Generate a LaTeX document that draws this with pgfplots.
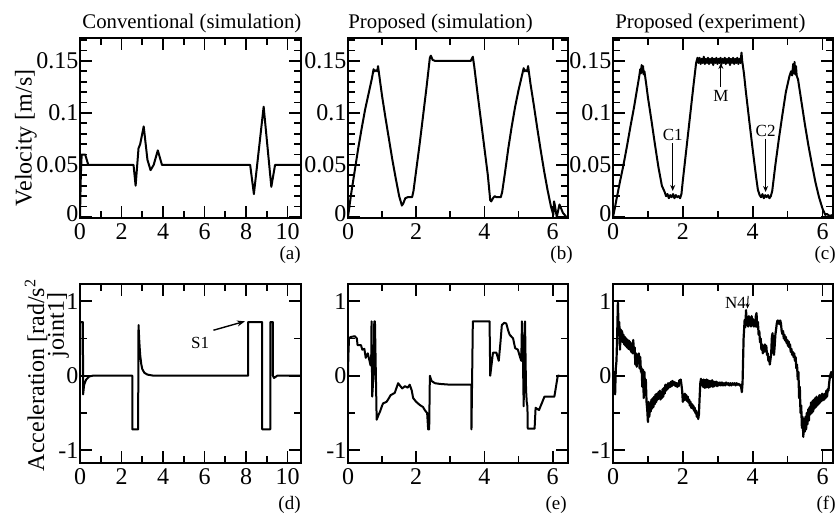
\documentclass[border=0pt]{standalone}
\usepackage{fontspec}
\setmainfont{Liberation Serif}
\usepackage{pgfplots}
\pgfplotsset{compat=1.18}
\usetikzlibrary{arrows.meta}

% 1 px of the reference = 0.5pt
\pgfplotsset{
  panel/.style={
    scale only axis, width=110pt, height=90pt, anchor=south west,
    axis line style={line width=1pt},
    every tick/.style={black, line width=0.9pt},
    major tick length=6pt, minor tick length=3.5pt,
    tick align=inside,
    ticklabel style={font=\fontsize{12}{12}\selectfont},
    yticklabel style={inner sep=0.6pt},
    xticklabel style={inner sep=2.6pt},
  },
  vel/.style={panel, ymin=-0.001, ymax=0.172,
    ytick={0,0.05,0.1,0.15}, yticklabels={\raisebox{3.4pt}{0},0.05,0.1,0.15},
    minor ytick={0.01,0.02,0.03,0.04,0.06,0.07,0.08,0.09,0.11,0.12,0.13,0.14,0.16,0.17}},
  acc/.style={panel, height=89.5pt, ymin=-1.17, ymax=1.23,
    ytick={-1,0,1}, yticklabels={-1,0,1}, minor ytick={-0.5,0.5}},
  long/.style={xmin=0, xmax=10.65, xtick={0,2,4,6,8,10}, xticklabels={0,2,4,6,8,10},
    minor xtick={1,3,5,7,9}},
  mid/.style={xmin=0, xmax=6.45, xtick={0,2,4,6}, xticklabels={0,2,4,6}, minor xtick={1,3,5}},
  short/.style={xmin=0, xmax=6.3, xtick={0,2,4,6}, xticklabels={0,2,4,6}, minor xtick={1,3,5}},
  curve/.style={black, line width=1pt, no marks, line join=round},
}
\newcommand{\ann}{\fontsize{8.5}{8.5}\selectfont}
\newcommand{\ttl}{\fontsize{10.4}{10.4}\selectfont}

\begin{document}
\begin{tikzpicture}
\useasboundingbox (0,0) rectangle (418pt,-257pt);

% ---------- (a) conventional velocity
\begin{axis}[vel, long, at={(40pt,-109pt)}, width=110.5pt]
\addplot[curve] coordinates {
(0,0) (0.04,0.04) (0.08,0.06) (0.25,0.06) (0.4,0.05) (2.58,0.05) (2.68,0.03)
(2.82,0.066) (2.9,0.07) (3.07,0.087) (3.25,0.055) (3.4,0.045) (3.55,0.05)
(3.75,0.064) (3.95,0.05) (8.2,0.05) (8.38,0.022) (8.85,0.106) (9.22,0.029)
(9.4,0.05) (10.65,0.05)};
\end{axis}

% ---------- (b) proposed velocity, simulation
\begin{axis}[vel, mid, at={(174pt,-109pt)}]
\addplot[curve] coordinates {
(0,0) (0.05,0.012) (0.1,0.024) (0.2,0.045) (0.3,0.066) (0.4,0.085) (0.5,0.103)
(0.6,0.118) (0.7,0.133) (0.75,0.142) (0.78,0.14) (0.82,0.141) (0.86,0.14) (0.88,0.145)
(0.95,0.128) (1.0,0.116) (1.1,0.095) (1.2,0.075) (1.3,0.055) (1.4,0.037) (1.5,0.02)
(1.58,0.011) (1.62,0.013) (1.68,0.018) (1.75,0.019) (1.88,0.019) (1.92,0.025)
(2.0,0.045) (2.1,0.07) (2.2,0.097) (2.3,0.124) (2.4,0.153) (2.43,0.155) (2.48,0.151)
(2.55,0.15) (3.6,0.15) (3.66,0.154) (3.7,0.145) (3.8,0.118) (3.9,0.092) (4.0,0.066)
(4.1,0.04) (4.17,0.016) (4.2,0.015) (4.25,0.018) (4.3,0.02) (4.35,0.019) (4.48,0.019)
(4.52,0.024) (4.6,0.042) (4.7,0.066) (4.8,0.087) (4.9,0.106) (5.0,0.122) (5.1,0.136)
(5.15,0.143) (5.18,0.14) (5.22,0.141) (5.25,0.14) (5.28,0.145) (5.35,0.128)
(5.45,0.107) (5.55,0.085) (5.65,0.064) (5.75,0.044) (5.85,0.026) (5.95,0.01)
(6.02,0.002) (6.04,0.015) (6.06,0.012) (6.12,0.0) (6.2,0.012) (6.3,0.004) (6.4,0)};
\end{axis}

% ---------- (c) proposed velocity, experiment
\begin{axis}[vel, short, at={(306.5pt,-109pt)}]
\addplot[curve] coordinates {
(0,0) (0.05,0.008) (0.1,0.017) (0.2,0.034) (0.3,0.05) (0.4,0.068) (0.5,0.087)
(0.6,0.105) (0.7,0.125) (0.75,0.135) (0.78,0.142) (0.8,0.138) (0.82,0.146) (0.84,0.139)
(0.86,0.145) (0.88,0.137) (0.9,0.14) (0.95,0.128) (1.0,0.115) (1.1,0.093) (1.2,0.07)
(1.3,0.048) (1.4,0.03) (1.48,0.024) (1.52,0.02) (1.56,0.022) (1.6,0.018) (1.64,0.021)
(1.68,0.019) (1.72,0.022) (1.76,0.018) (1.8,0.021) (1.84,0.019) (1.88,0.02) (1.92,0.018)
(1.96,0.022) (2.0,0.035) (2.1,0.065) (2.2,0.095) (2.3,0.125) (2.38,0.148) (2.42,0.153)
(2.45,0.148) (2.48,0.153) (2.51,0.147) (2.54,0.152) (2.57,0.148) (2.6,0.154) (2.63,0.147)
(2.66,0.152) (2.69,0.148) (2.72,0.153) (2.75,0.147) (2.78,0.152) (2.81,0.148) (2.84,0.153)
(2.87,0.146) (2.9,0.152) (2.93,0.148) (2.96,0.153) (2.99,0.147) (3.02,0.152) (3.05,0.148)
(3.08,0.153) (3.11,0.147) (3.14,0.152) (3.17,0.148) (3.2,0.153) (3.23,0.147) (3.26,0.152)
(3.29,0.148) (3.32,0.153) (3.35,0.146) (3.38,0.152) (3.41,0.148) (3.44,0.153) (3.47,0.147)
(3.5,0.152) (3.53,0.148) (3.56,0.153) (3.59,0.147) (3.62,0.152) (3.65,0.148) (3.68,0.158)
(3.7,0.15) (3.75,0.138) (3.8,0.122) (3.9,0.093) (4.0,0.065) (4.1,0.038) (4.15,0.026)
(4.2,0.021) (4.24,0.019) (4.28,0.022) (4.32,0.018) (4.36,0.021) (4.4,0.019) (4.44,0.021)
(4.48,0.018) (4.52,0.02) (4.56,0.025) (4.65,0.05) (4.75,0.075) (4.85,0.098) (4.95,0.12)
(5.05,0.135) (5.1,0.14) (5.13,0.136) (5.16,0.147) (5.18,0.138) (5.2,0.149) (5.22,0.137)
(5.24,0.145) (5.26,0.136) (5.3,0.132) (5.4,0.11) (5.5,0.088) (5.6,0.068) (5.7,0.05)
(5.8,0.033) (5.9,0.019) (6.0,0.008) (6.08,0.002) (6.12,0.003) (6.2,0.001) (6.3,0.002)};
\node[font=\ann] at (axis cs:3.09,0.116) {M};
\draw[-{Stealth[length=3pt,width=2.5pt]}, line width=0.5pt] (axis cs:3.09,0.125) -- (axis cs:3.09,0.148);
\node[font=\ann] at (axis cs:1.71,0.079) {C1};
\draw[-{Stealth[length=3pt,width=2.5pt]}, line width=0.5pt] (axis cs:1.71,0.071) -- (axis cs:1.71,0.025);
\node[font=\ann] at (axis cs:4.37,0.083) {C2};
\draw[-{Stealth[length=3pt,width=2.5pt]}, line width=0.5pt] (axis cs:4.37,0.075) -- (axis cs:4.37,0.024);
\end{axis}

% ---------- (d) conventional acceleration
\begin{axis}[acc, long, at={(40pt,-231.5pt)}, width=110.5pt]
\addplot[curve] coordinates {
(0,0) (0.01,0.72) (0.14,0.72) (0.15,-0.25) (0.2,-0.12) (0.3,-0.05) (0.45,-0.01) (0.6,0)
(2.52,0) (2.52,-0.72) (2.8,-0.72) (2.82,0.68) (2.86,0.45) (2.9,0.28) (2.95,0.16)
(3.0,0.09) (3.1,0.04) (3.25,0.015) (3.5,0.003) (8.1,0) (8.1,0.72) (8.78,0.72)
(8.78,-0.72) (9.17,-0.72) (9.17,0.72) (9.3,0.72) (9.3,0) (9.35,-0.03) (9.5,0) (10.65,0)};
\node[font=\ann] at (axis cs:5.79,0.44) {S1};
\draw[-{Stealth[length=4pt,width=3pt]}, line width=0.7pt] (axis cs:6.43,0.61) -- (axis cs:7.95,0.73);
\end{axis}

% ---------- (e) proposed acceleration, simulation
\begin{axis}[acc, mid, at={(174pt,-231.5pt)}]
\addplot[curve] coordinates {
(0,0) (0.01,0.26) (0.03,0.5) (0.08,0.52) (0.2,0.53) (0.26,0.5) (0.28,0.41) (0.38,0.41)
(0.42,0.35) (0.48,0.36) (0.52,0.24) (0.58,0.3) (0.62,0.22) (0.66,0.14) (0.68,0.2)
(0.69,0.73) (0.71,-0.28) (0.76,0.1) (0.77,0.73) (0.79,0.73) (0.84,-0.59) (0.9,-0.52)
(0.94,-0.48) (1.0,-0.4) (1.03,-0.37) (1.13,-0.35) (1.2,-0.3) (1.25,-0.26) (1.37,-0.23)
(1.47,-0.1) (1.52,-0.13) (1.59,-0.17) (1.67,-0.14) (1.75,-0.16) (1.81,-0.12) (1.87,-0.2)
(1.91,-0.3) (2.0,-0.35) (2.1,-0.39) (2.2,-0.42) (2.25,-0.46) (2.32,-0.5) (2.35,-0.72)
(2.38,-0.72) (2.4,0.0) (2.45,-0.07) (2.55,-0.1) (2.7,-0.11) (3.0,-0.12) (3.62,-0.12)
(3.62,-0.72) (3.66,0.73) (4.15,0.73) (4.17,0.0) (4.25,0.31) (4.35,0.31) (4.42,0.2)
(4.47,0.45) (4.51,0.68) (4.58,0.71) (4.64,0.7) (4.7,0.6) (4.74,0.55) (4.84,0.5)
(4.9,0.37) (4.98,0.35) (5.05,0.24) (5.08,0.2) (5.1,0.73) (5.13,0.2) (5.15,-0.41)
(5.17,0.3) (5.19,0.73) (5.21,0.1) (5.22,-0.19) (5.24,-0.35) (5.26,-0.41) (5.27,-0.71)
(5.47,-0.71) (5.5,-0.43) (5.6,-0.46) (5.68,-0.37) (5.76,-0.28) (6.05,-0.28) (6.15,0.0)
(6.2,0.0)};
\end{axis}

% ---------- (f) proposed acceleration, experiment
\begin{axis}[acc, short, at={(306.5pt,-231.5pt)}]
\addplot[curve, line width=1.1pt] coordinates {
(0.00,-0.05) (0.02,-0.22) (0.04,0.05) (0.06,-0.25) (0.08,0.1) (0.10,0.2) (0.12,0.55)
(0.14,0.98) (0.16,0.6) (0.18,0.72) (0.20,0.35) (0.22,0.62) (0.24,0.48) (0.26,0.6)
(0.28,0.45) (0.30,0.55) (0.32,0.42) (0.34,0.52) (0.36,0.4) (0.38,0.5) (0.40,0.38)
(0.42,0.48) (0.44,0.36) (0.46,0.47) (0.48,0.35) (0.50,0.45) (0.52,0.32) (0.54,0.42)
(0.56,0.3) (0.58,0.48) (0.60,0.3) (0.62,0.38) (0.64,0.15) (0.66,0.3) (0.68,0.12)
(0.70,0.28) (0.72,0.18) (0.74,0.3) (0.76,0.1) (0.78,0.25) (0.80,0.05) (0.82,0.1)
(0.84,-0.15) (0.86,0.08) (0.88,-0.3) (0.90,0.05) (0.92,-0.2) (0.94,-0.05) (0.96,-0.35)
(0.98,-0.45) (1.00,-0.62) (1.02,-0.35) (1.04,-0.55) (1.06,-0.38) (1.08,-0.48) (1.10,-0.32)
(1.12,-0.44) (1.14,-0.3) (1.16,-0.42) (1.18,-0.28) (1.20,-0.38) (1.22,-0.25) (1.24,-0.35)
(1.26,-0.24) (1.28,-0.32) (1.30,-0.22) (1.32,-0.3) (1.34,-0.2) (1.36,-0.32) (1.38,-0.22)
(1.40,-0.3) (1.42,-0.18) (1.44,-0.28) (1.46,-0.16) (1.48,-0.24) (1.50,-0.12) (1.52,-0.2)
(1.54,-0.12) (1.56,-0.18) (1.58,-0.1) (1.60,-0.16) (1.62,-0.1) (1.64,-0.15) (1.66,-0.08)
(1.68,-0.14) (1.70,-0.07) (1.72,-0.12) (1.74,-0.08) (1.76,-0.13) (1.78,-0.09) (1.80,-0.14)
(1.82,-0.1) (1.84,-0.15) (1.86,-0.1) (1.88,-0.14) (1.90,-0.06) (1.92,-0.1) (1.94,-0.05)
(1.96,-0.12) (1.98,-0.2) (2.00,-0.35) (2.02,-0.25) (2.04,-0.33) (2.06,-0.24) (2.08,-0.32)
(2.10,-0.26) (2.12,-0.34) (2.14,-0.28) (2.16,-0.36) (2.18,-0.32) (2.20,-0.4) (2.22,-0.35)
(2.24,-0.43) (2.26,-0.38) (2.28,-0.44) (2.30,-0.4) (2.32,-0.47) (2.34,-0.43) (2.36,-0.5)
(2.38,-0.47) (2.40,-0.55) (2.42,-0.5) (2.44,-0.58) (2.46,-0.52) (2.48,-0.3) (2.50,-0.1)
(2.52,-0.04) (2.54,-0.12) (2.56,-0.06) (2.58,-0.15) (2.60,-0.05) (2.62,-0.16) (2.64,-0.06)
(2.66,-0.16) (2.68,-0.05) (2.70,-0.15) (2.72,-0.06) (2.74,-0.16) (2.76,-0.07) (2.78,-0.15)
(2.80,-0.07) (2.82,-0.14) (2.84,-0.06) (2.86,-0.15) (2.88,-0.08) (2.90,-0.14) (2.92,-0.08)
(2.94,-0.13) (2.96,-0.08) (2.98,-0.14) (3.00,-0.09) (3.03,-0.13) (3.06,-0.09) (3.09,-0.13)
(3.12,-0.09) (3.15,-0.13) (3.18,-0.1) (3.21,-0.13) (3.24,-0.09) (3.27,-0.12) (3.30,-0.1)
(3.33,-0.13) (3.36,-0.1) (3.39,-0.13) (3.42,-0.1) (3.45,-0.12) (3.48,-0.1) (3.51,-0.13)
(3.54,-0.1) (3.57,-0.12) (3.60,-0.11) (3.63,-0.13) (3.66,-0.12) (3.69,-0.22) (3.71,-0.1)
(3.74,0.5) (3.77,0.75) (3.79,0.65) (3.81,0.88) (3.83,0.68) (3.85,0.78) (3.87,0.66)
(3.89,0.8) (3.91,0.68) (3.93,0.78) (3.95,0.66) (3.97,0.8) (3.99,0.68) (4.01,0.76)
(4.03,0.66) (4.05,0.74) (4.07,0.66) (4.09,0.8) (4.11,0.84) (4.13,0.65) (4.15,0.72)
(4.17,0.55) (4.19,0.6) (4.21,0.45) (4.23,0.5) (4.25,0.35) (4.27,0.42) (4.29,0.3)
(4.31,0.38) (4.33,0.32) (4.35,0.42) (4.37,0.34) (4.39,0.4) (4.41,0.28) (4.43,0.3)
(4.45,0.2) (4.47,0.25) (4.49,0.15) (4.51,0.22) (4.53,0.3) (4.55,0.52) (4.57,0.57)
(4.59,0.35) (4.61,0.28) (4.63,0.4) (4.65,0.55) (4.67,0.62) (4.69,0.7) (4.71,0.74)
(4.73,0.7) (4.75,0.74) (4.77,0.69) (4.79,0.74) (4.81,0.7) (4.83,0.6) (4.85,0.56)
(4.87,0.6) (4.89,0.5) (4.91,0.55) (4.93,0.47) (4.95,0.52) (4.97,0.44) (4.99,0.48)
(5.01,0.4) (5.03,0.46) (5.05,0.38) (5.07,0.42) (5.09,0.32) (5.11,0.36) (5.13,0.28)
(5.15,0.32) (5.17,0.25) (5.19,0.3) (5.21,0.2) (5.23,0.25) (5.25,0.1) (5.27,0.15)
(5.29,-0.05) (5.31,0.05) (5.33,-0.3) (5.35,-0.15) (5.37,-0.5) (5.39,-0.4) (5.41,-0.7)
(5.43,-0.55) (5.45,-0.82) (5.47,-0.6) (5.49,-0.75) (5.51,-0.55) (5.53,-0.72) (5.55,-0.5)
(5.57,-0.65) (5.59,-0.45) (5.61,-0.6) (5.63,-0.42) (5.65,-0.52) (5.67,-0.36) (5.69,-0.5)
(5.71,-0.34) (5.73,-0.48) (5.75,-0.32) (5.77,-0.44) (5.79,-0.3) (5.81,-0.42) (5.83,-0.28)
(5.85,-0.4) (5.87,-0.3) (5.89,-0.38) (5.91,-0.26) (5.93,-0.36) (5.95,-0.26) (5.97,-0.34)
(5.99,-0.24) (6.01,-0.33) (6.03,-0.25) (6.05,-0.32) (6.07,-0.24) (6.09,-0.3) (6.11,-0.2)
(6.13,-0.28) (6.15,-0.18) (6.17,-0.2) (6.19,-0.1) (6.21,-0.02) (6.23,0.02) (6.25,0.05)
(6.27,-0.02) (6.29,0.0)};
\node[font=\ann] at (axis cs:3.51,0.98) {N4};
\draw[-{Stealth[length=2.5pt,width=2pt]}, line width=0.5pt] (axis cs:3.87,1.07) -- (axis cs:3.85,0.9);
\end{axis}

% ---------- titles
\node[anchor=base west, inner sep=0pt, font=\ttl] at (41pt,-14pt) {Conventional (simulation)};
\node[anchor=base west, inner sep=0pt, font=\ttl] at (174pt,-14pt) {Proposed (simulation)};
\node[anchor=base west, inner sep=0pt, font=\ttl] at (307.5pt,-14pt) {Proposed (experiment)};

% ---------- panel letters
\begin{scope}[every node/.style={anchor=base east, font=\fontsize{9.5}{9.5}\selectfont, inner sep=0pt}]
\node at (150.5pt,-129.5pt) {(a)};
\node at (286.5pt,-129.5pt) {(b)};
\node at (418pt,-129.5pt) {(c)};
\node at (150.5pt,-254.5pt) {(d)};
\node at (283.5pt,-254.5pt) {(e)};
\node at (418pt,-254.5pt) {(f)};
\end{scope}

% ---------- y labels
\node[rotate=90, font=\fontsize{12}{12}\selectfont] at (13pt,-69pt) {Velocity [m/s]};
\node[rotate=90, font=\fontsize{12}{12}\selectfont] at (18pt,-187.5pt) {Acceleration [rad/s\textsuperscript{2}};
\node[rotate=90, font=\fontsize{12}{12}\selectfont] at (29pt,-162.5pt) {joint1]};
\end{tikzpicture}
\end{document}
